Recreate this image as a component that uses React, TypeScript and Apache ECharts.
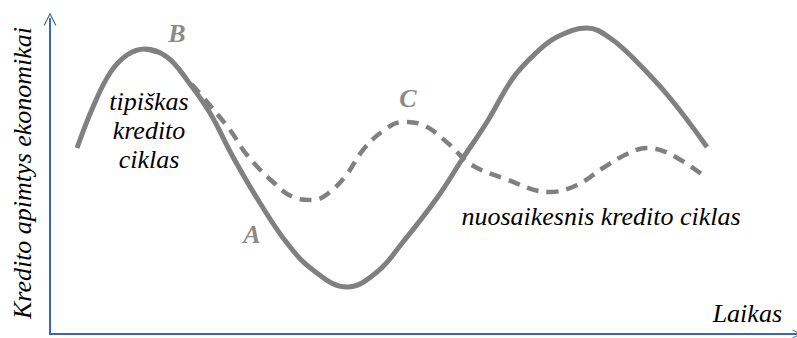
import React, { useEffect, useRef } from "react";
import * as echarts from "echarts";

// Time (x) and credit volume (y), arbitrary units
const typicalCycle: [number, number][] = [
  [27, 186], [43, 227], [60, 261], [77, 279], [95, 285], [117, 277], [137, 254],
  [160, 221], [183, 177], [210, 131], [237, 91], [263, 64], [297, 47], [327, 62],
  [353, 92], [387, 136], [413, 176], [437, 212], [463, 256], [487, 282], [507, 297],
  [537, 306], [560, 296], [587, 272], [620, 236], [657, 187],
];

const moderateCycle: [number, number][] = [
  [95, 285], [117, 277], [137, 255], [152, 238], [180, 204], [197, 179], [223, 152],
  [243, 137], [263, 134], [280, 142], [297, 160], [313, 184], [333, 203], [353, 212],
  [373, 209], [400, 189], [420, 170], [453, 156], [500, 142], [527, 149], [553, 166],
  [577, 180], [597, 186], [620, 180], [653, 159],
];

const yAxisTitle = "Kredito apimtys ekonomikai";
const xAxisTitle = "Laikas";
const typicalLabel = ["tipiškas", "kredito", "ciklas"];
const moderateLabel = "nuosaikesnis kredito ciklas";
const pointLabels = ["A", "B", "C"];

const AXIS_COLOR = "#3e6b9f";
const LINE_COLOR = "#808080";
const FONT = "Liberation Serif";
const ARROW = "path://M0,12 L6,0 L12,12 L10.8,12 L6,2.4 L1.2,12 Z";

const txt = (text: string, size: number, extra: Record<string, unknown> = {}) => ({
  text,
  fontFamily: FONT,
  fontStyle: "italic",
  fontSize: size,
  fill: "#000",
  align: "center",
  verticalAlign: "middle",
  ...extra,
});

export default function App() {
  const ref = useRef<HTMLDivElement>(null);
  useEffect(() => {
    if (!ref.current) return;
    const chart = echarts.init(ref.current, undefined, { renderer: "svg" });
    chart.setOption({
      animation: false,
      backgroundColor: "#ffffff",
      grid: { left: 50, right: 0, top: 19, bottom: 4 },
      xAxis: {
        type: "value",
        min: 0,
        max: 747,
        axisLine: {
          show: true,
          lineStyle: { color: AXIS_COLOR, width: 2 },
          symbol: ["none", ARROW],
          symbolSize: [13, 9],
          symbolOffset: [0, 0],
        },
        axisTick: { show: false },
        axisLabel: { show: false },
        splitLine: { show: false },
      },
      yAxis: {
        type: "value",
        min: 0,
        max: 315,
        axisLine: {
          show: true,
          lineStyle: { color: AXIS_COLOR, width: 2 },
          symbol: ["none", ARROW],
          symbolSize: [14, 13],
          symbolOffset: [0, 0],
        },
        axisTick: { show: false },
        axisLabel: { show: false },
        splitLine: { show: false },
      },
      series: [
        {
          type: "line",
          data: moderateCycle,
          smooth: 0.4,
          showSymbol: false,
          lineStyle: { color: LINE_COLOR, width: 4.5, type: [12, 8] },
          z: 2,
        },
        {
          type: "line",
          data: typicalCycle,
          smooth: 0.4,
          showSymbol: false,
          lineStyle: { color: LINE_COLOR, width: 5 },
          z: 3,
        },
      ],
      graphic: [
        {
          type: "text",
          x: 22,
          y: 173,
          rotation: Math.PI / 2,
          style: txt(yAxisTitle, 26),
        },
        {
          type: "text",
          x: 782,
          y: 313,
          style: txt(xAxisTitle, 26, { align: "right" }),
        },
        ...typicalLabel.map((t, i) => ({
          type: "text",
          x: 149,
          y: 101 + i * 29,
          style: txt(t, 26),
        })),
        {
          type: "text",
          x: 601,
          y: 216,
          style: txt(moderateLabel, 26),
        },
        ...pointLabels.map((t, i) => ({
          type: "text",
          x: [252, 177, 408][i],
          y: [234, 33, 98][i],
          style: txt(t, 26, { fontWeight: "bold", fill: "#8a8a8a" }),
        })),
      ],
    });
    return () => chart.dispose();
  }, []);
  return (
    <div
      ref={ref}
      style={{ position: "fixed", left: 0, top: 0, width: 797, height: 338 }}
    />
  );
}
